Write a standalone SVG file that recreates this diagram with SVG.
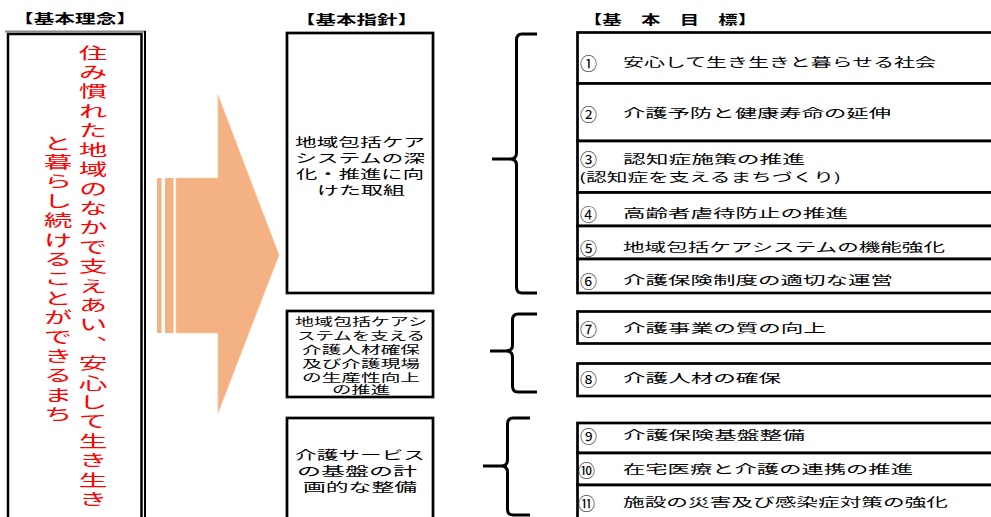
<svg xmlns="http://www.w3.org/2000/svg" width="991" height="517" viewBox="0 0 991 517">
<style>
text{font-family:"Noto Sans CJK JP","Noto Sans CJK SC",sans-serif;fill:#000}
.hd{font-size:13px;font-weight:bold}
.red{fill:#FF0000;font-size:15.5px}
.mb{font-size:12.5px}
.mb2{font-size:11px}
.g{font-size:12px}
.n{font-family:"Noto Sans CJK JP",sans-serif;font-size:17px}
.box{fill:#fff;stroke:#000;stroke-width:2.7}
.br{fill:none;stroke:#000;stroke-width:3;stroke-linecap:butt}
.arrow{fill:#F4B183;stroke:#F7C9A6;stroke-width:0.8}
</style>
<rect width="991" height="517" fill="#fff"/>

<g id="headers">
<text class="hd" x="13" y="23" textLength="124" lengthAdjust="spacingAndGlyphs">【基本理念】</text>
<text class="hd" x="295" y="24" textLength="123" lengthAdjust="spacingAndGlyphs">【基本指針】</text>
<text class="hd" x="583" y="24" textLength="174" lengthAdjust="spacingAndGlyphs">【基　本　目　標】</text>
</g>

<g id="philosophy">
<line x1="5" y1="31.5" x2="146" y2="31.5" stroke="#8a8a8a" stroke-width="2"/>
<line x1="145" y1="31" x2="145" y2="520" stroke="#000" stroke-width="2"/>
<rect x="8" y="34" width="133.5" height="500" fill="#fff" stroke="#000" stroke-width="2.5"/>
<g transform="translate(93,0) scale(1.85,1)">
<text class="red" x="0" y="45" writing-mode="vertical-rl" textLength="462" lengthAdjust="spacing">住み慣れた地域のなかで支えあい、安心して生き生き</text>
</g>
<g transform="translate(58,0) scale(1.85,1)">
<text class="red" x="0" y="135" writing-mode="vertical-rl" textLength="287" lengthAdjust="spacing">と暮らし続けることができるまち</text>
</g>
</g>

<g id="arrow">
<rect x="157" y="178" width="4.5" height="155" fill="#F4B183"/>
<rect x="165" y="178" width="8.5" height="155" fill="#F4B183"/>
<polygon class="arrow" points="176,178 218,178 218,95 279,255 218,413 218,333 176,333"/>
</g>

<g id="policy1">
<rect class="box" x="287" y="33" width="146" height="260"/>
<text class="mb" x="295" y="147" textLength="130" lengthAdjust="spacingAndGlyphs">地域包括ケア</text>
<text class="mb" x="295" y="163" textLength="130" lengthAdjust="spacingAndGlyphs">システムの深</text>
<text class="mb" x="296" y="179" textLength="128" lengthAdjust="spacingAndGlyphs">化・推進に向</text>
<text class="mb" x="317" y="195" textLength="88" lengthAdjust="spacingAndGlyphs">けた取組</text>
</g>

<g id="policy2">
<rect class="box" x="287" y="311" width="146" height="86"/>
<text class="mb2" x="295" y="326" textLength="132" lengthAdjust="spacingAndGlyphs">地域包括ケアシ</text>
<text class="mb2" x="297" y="340" textLength="128" lengthAdjust="spacingAndGlyphs">ステムを支える</text>
<text class="mb2" x="302" y="354" textLength="118" lengthAdjust="spacingAndGlyphs">介護人材確保</text>
<text class="mb2" x="302" y="368" textLength="118" lengthAdjust="spacingAndGlyphs">及び介護現場</text>
<text class="mb2" x="302" y="382" textLength="118" lengthAdjust="spacingAndGlyphs">の生産性向上</text>
<text class="mb2" x="332" y="394" textLength="58" lengthAdjust="spacingAndGlyphs">の推進</text>
</g>

<g id="policy3">
<rect class="box" x="287" y="418" width="146" height="120"/>
<text class="mb" x="295" y="460" textLength="130" lengthAdjust="spacingAndGlyphs">介護サービス</text>
<text class="mb" x="297" y="476" textLength="120" lengthAdjust="spacingAndGlyphs">の基盤の計</text>
<text class="mb" x="303" y="492" textLength="114" lengthAdjust="spacingAndGlyphs">画的な整備</text>
</g>

<g id="connectors">
<path class="br" d="M537,34 L522,34 Q516.5,34 516.5,40 L516.5,153 Q516.5,159 510,159 L492,159 M510,159 Q516.5,159 516.5,165 L516.5,287 Q516.5,293 522,293 L537,293"/>
<path class="br" d="M537,314 L518,314 Q512.5,314 512.5,320 L512.5,345 Q512.5,351 506,351 L490,351 M506,351 Q512.5,351 512.5,357 L512.5,386 Q512.5,392 518,392 L537,392"/>
<path class="br" d="M530,418 L513,418 Q507.5,418 507.5,424 L507.5,460 Q507.5,466 501,466 L483,466 M501,466 Q507.5,466 507.5,472 L507.5,509 Q507.5,515 513,515 L530,515"/>
</g>

<g id="goal1"><rect class="box" x="577.5" y="32.5" width="430" height="51"/>
<text class="n" x="580" y="70">①</text>
<text class="g" x="623" y="67" textLength="313" lengthAdjust="spacingAndGlyphs">安心して生き生きと暮らせる社会</text></g>
<g id="goal2"><rect class="box" x="577.5" y="83.5" width="430" height="57.5"/>
<text class="n" x="580" y="121">②</text>
<text class="g" x="623" y="118" textLength="268" lengthAdjust="spacingAndGlyphs">介護予防と健康寿命の延伸</text></g>
<g id="goal3"><rect class="box" x="577.5" y="141" width="430" height="51.5"/>
<text class="n" x="580" y="166">③</text>
<text class="g" x="623" y="164" textLength="182" lengthAdjust="spacingAndGlyphs">認知症施策の推進</text>
<text class="g" x="579" y="182" textLength="262" lengthAdjust="spacingAndGlyphs">(認知症を支えるまちづくり)</text></g>
<g id="goal4"><rect class="box" x="577.5" y="192.5" width="430" height="33.5"/>
<text class="n" x="580" y="221">④</text>
<text class="g" x="623" y="218" textLength="225" lengthAdjust="spacingAndGlyphs">高齢者虐待防止の推進</text></g>
<g id="goal5"><rect class="box" x="577.5" y="226" width="430" height="33"/>
<text class="n" x="580" y="255">⑤</text>
<text class="g" x="623" y="252" textLength="322" lengthAdjust="spacingAndGlyphs">地域包括ケアシステムの機能強化</text></g>
<g id="goal6"><rect class="box" x="577.5" y="259" width="430" height="34"/>
<text class="n" x="580" y="288">⑥</text>
<text class="g" x="623" y="285" textLength="270" lengthAdjust="spacingAndGlyphs">介護保険制度の適切な運営</text></g>
<g id="goal7"><rect class="box" x="577.5" y="311.5" width="430" height="32"/>
<text class="n" x="580" y="336">⑦</text>
<text class="g" x="623" y="333" textLength="203" lengthAdjust="spacingAndGlyphs">介護事業の質の向上</text></g>
<g id="goal8"><rect class="box" x="577.5" y="363.5" width="430" height="32.5"/>
<text class="n" x="580" y="386">⑧</text>
<text class="g" x="623" y="383" textLength="158" lengthAdjust="spacingAndGlyphs">介護人材の確保</text></g>
<g id="goal9"><rect class="box" x="577.5" y="423" width="430" height="30"/>
<text class="n" x="580" y="443">⑨</text>
<text class="g" x="623" y="440" textLength="182" lengthAdjust="spacingAndGlyphs">介護保険基盤整備</text></g>
<g id="goal10"><rect class="box" x="577.5" y="453" width="430" height="32"/>
<text class="n" x="578" y="477">⑩</text>
<text class="g" x="623" y="474" textLength="290" lengthAdjust="spacingAndGlyphs">在宅医療と介護の連携の推進</text></g>
<g id="goal11"><rect class="box" x="577.5" y="485" width="430" height="50"/>
<text class="n" x="578" y="510">⑪</text>
<text class="g" x="623" y="507" textLength="325" lengthAdjust="spacingAndGlyphs">施設の災害及び感染症対策の強化</text></g>
</svg>
